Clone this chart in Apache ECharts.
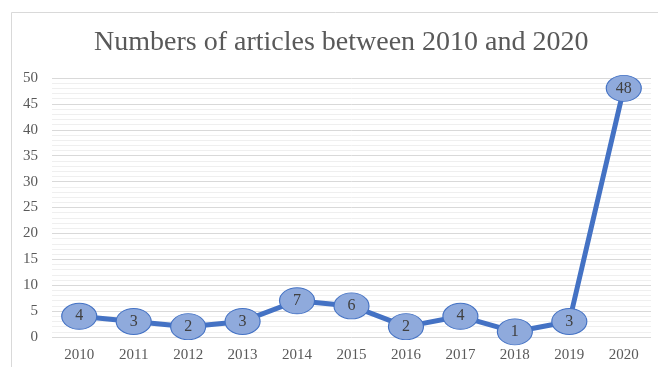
<!DOCTYPE html>
<html>
<head>
<meta charset="utf-8">
<script src="https://cdn.jsdelivr.net/npm/echarts@6/dist/echarts.min.js"></script>
<style>html,body{margin:0;padding:0;background:#fff;}#c{width:658px;height:367px;}</style>
</head>
<body>
<div id="c"></div>
<script>
const titleText = "Numbers of articles between 2010 and 2020";
const years = ["2010","2011","2012","2013","2014","2015","2016","2017","2018","2019","2020"];
const articles = [4,3,2,3,7,6,2,4,1,3,48];

const chart = echarts.init(document.getElementById('c'));
const serif = '"Liberation Serif", "Times New Roman", serif';
chart.setOption({
  animation: false,
  backgroundColor: '#ffffff',
  graphic: [{
    type: 'rect', silent: true, z: -10,
    shape: { x: 11.5, y: 12.5, width: 700, height: 400 },
    style: { fill: 'none', stroke: '#d9d9d9', lineWidth: 1 }
  }],
  title: {
    text: titleText, left: 89, top: 24, itemGap: 0,
    textStyle: { fontFamily: serif, fontSize: 28, fontWeight: 'normal', color: '#595959' }
  },
  grid: { left: 52, right: 7, top: 78, bottom: 30, containLabel: false },
  xAxis: {
    type: 'category', data: years, boundaryGap: true,
    axisLine: { show: false }, axisTick: { show: false },
    axisLabel: { fontFamily: serif, fontSize: 15, color: '#595959', margin: 11 }
  },
  yAxis: {
    type: 'value', min: 0, max: 50, interval: 5,
    axisLine: { show: false }, axisTick: { show: false },
    axisLabel: { fontFamily: serif, fontSize: 15, color: '#595959', margin: 14 },
    splitLine: { lineStyle: { color: '#d9d9d9', width: 1 } },
    minorTick: { show: false, splitNumber: 5 },
    minorSplitLine: { show: true, lineStyle: { color: '#efefef', width: 1 } }
  },
  series: [{
    type: 'line', data: articles,
    lineStyle: { color: '#4472c4', width: 5 },
    symbol: 'path://M0,50 A50,50 0 1,1 100,50 A50,50 0 1,1 0,50 Z',
    symbolSize: [35, 26], symbolKeepAspect: false,
    itemStyle: { color: '#8faadc', borderColor: '#4472c4', borderWidth: 1 },
    label: { show: true, position: 'inside', fontFamily: serif, fontSize: 16, color: '#404040' },
    z: 3
  }]
});
</script>
</body>
</html>
